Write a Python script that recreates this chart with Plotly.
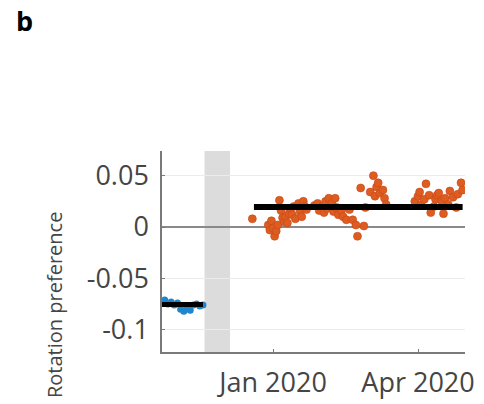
import plotly.graph_objects as go

# ---- data ----
blue_dates = ["2019-10-21", "2019-10-23", "2019-10-25", "2019-10-27", "2019-10-29", "2019-10-31",
              "2019-11-02", "2019-11-04", "2019-11-06", "2019-11-08", "2019-11-10", "2019-11-12",
              "2019-11-14", "2019-11-16", "2019-11-18"]
blue_vals = [-0.072, -0.074, -0.071, -0.075, -0.073, -0.076,
             -0.074, -0.080, -0.082, -0.078, -0.081, -0.076,
             -0.075, -0.077, -0.076]

orange_dates = ["2019-12-19", "2019-12-29", "2019-12-30", "2019-12-31", "2020-01-01", "2020-01-02",
                "2020-01-03", "2020-01-04", "2020-01-05", "2020-01-06", "2020-01-07", "2020-01-08",
                "2020-01-09", "2020-01-10", "2020-01-11", "2020-01-12", "2020-01-13", "2020-01-14",
                "2020-01-15", "2020-01-17", "2020-01-18", "2020-01-19", "2020-01-20", "2020-01-21",
                "2020-01-22", "2020-01-27", "2020-01-29", "2020-01-30", "2020-02-01", "2020-02-02",
                "2020-02-03", "2020-02-04", "2020-02-05", "2020-02-07", "2020-02-08", "2020-02-09",
                "2020-02-10", "2020-02-11", "2020-02-13", "2020-02-14", "2020-02-16", "2020-02-18",
                "2020-02-20", "2020-02-22", "2020-02-23", "2020-02-25", "2020-02-27", "2020-02-28",
                "2020-03-02", "2020-03-04", "2020-03-05", "2020-03-06", "2020-03-07", "2020-03-08",
                "2020-03-10", "2020-03-11", "2020-03-12", "2020-03-30", "2020-04-01", "2020-04-02",
                "2020-04-03", "2020-04-05", "2020-04-06", "2020-04-08", "2020-04-09", "2020-04-11",
                "2020-04-12", "2020-04-13", "2020-04-14", "2020-04-16", "2020-04-17", "2020-04-18",
                "2020-04-20", "2020-04-21", "2020-04-23", "2020-04-25", "2020-04-26", "2020-04-28",
                "2020-04-29"]
orange_vals = [0.008, 0.002, -0.003, 0.006, -0.001, -0.009,
               -0.004, 0.002, 0.026, 0.016, 0.009, 0.005,
               0.010, 0.004, 0.013, 0.018, 0.012, 0.020,
               0.008, 0.023, 0.015, 0.010, 0.025, 0.020,
               0.017, 0.021, 0.023, 0.016, 0.020, 0.014,
               0.025, 0.018, 0.028, 0.023, 0.015, 0.028,
               0.019, 0.012, 0.016, 0.010, 0.007, 0.017,
               0.007, 0.002, -0.009, 0.038, 0.001, 0.019,
               0.034, 0.050, 0.030, 0.039, 0.043, 0.033,
               0.036, 0.028, 0.022, 0.025, 0.030, 0.034,
               0.022, 0.027, 0.042, 0.031, 0.014, 0.020,
               0.027, 0.031, 0.033, 0.025, 0.013, 0.028,
               0.022, 0.035, 0.029, 0.019, 0.032, 0.043,
               0.036]

blue_mean_span = ["2019-10-22", "2019-11-18"]
blue_mean = -0.0755
orange_mean_span = ["2019-12-20", "2020-04-29"]
orange_mean = 0.0195

gap_span = ["2019-11-19", "2019-12-05"]

x_range = ["2019-10-23 07:00", "2020-04-30 12:00"]
y_range = [-0.1217, 0.074]
x_tickvals = ["2020-01-01", "2020-04-01"]
x_ticktext = ["Jan 2020", "Apr 2020"]
y_tickvals = [-0.1, -0.05, 0, 0.05]
y_ticktext = ["-0.1", "-0.05", "0", "0.05"]

FONT = "Open Sans"
TXT = "#454545"

fig = go.Figure()

fig.add_shape(type="rect", xref="x", yref="paper", x0=gap_span[0], x1=gap_span[1],
              y0=0, y1=1, fillcolor="#dcdcdc", line_width=0, layer="below")

fig.add_trace(go.Scatter(x=blue_dates, y=blue_vals, mode="markers",
                         marker=dict(color="#1f86cc", size=7, line=dict(width=0)),
                         cliponaxis=False, showlegend=False))
fig.add_trace(go.Scatter(x=orange_dates, y=orange_vals, mode="markers",
                         marker=dict(color="#dd5c20", size=8, line=dict(width=0.6, color="#c8461a")),
                         showlegend=False))
fig.add_trace(go.Scatter(x=blue_mean_span, y=[blue_mean, blue_mean], mode="lines",
                         line=dict(color="black", width=5), showlegend=False))
fig.add_trace(go.Scatter(x=orange_mean_span, y=[orange_mean, orange_mean], mode="lines",
                         line=dict(color="black", width=6), showlegend=False))

fig.update_layout(
    width=484, height=404,
    margin=dict(l=162, r=19, t=151, b=52, autoexpand=False),
    paper_bgcolor="white", plot_bgcolor="white",
    font=dict(family=FONT, color=TXT),
    xaxis=dict(range=x_range, tickvals=x_tickvals, ticktext=x_ticktext,
               automargin=False,
               showgrid=False, zeroline=False, showline=True, linecolor="#7a7a7a",
               linewidth=1.5, ticks="inside", ticklen=3, tickcolor="#7a7a7a",
               ticklabelstandoff=6,
               tickfont=dict(size=27, color=TXT, family=FONT)),
    yaxis=dict(range=y_range, tickvals=y_tickvals, ticktext=y_ticktext,
               automargin=False,
               showgrid=True, gridcolor="#ececec", gridwidth=1,
               zeroline=True, zerolinecolor="#8a8a8a", zerolinewidth=2,
               showline=True, linecolor="#7a7a7a", linewidth=1.5,
               ticks="inside", ticklen=3, tickcolor="#7a7a7a",
               ticklabelstandoff=6,
               tickfont=dict(size=27, color=TXT, family=FONT)),
    annotations=[
        dict(text="Rotation preference", xref="paper", yref="paper",
             x=-0.353, y=0.234, xanchor="center", yanchor="middle", textangle=-90,
             showarrow=False, font=dict(size=20, color=TXT, family=FONT)),
        dict(text="<b>b</b>", xref="paper", yref="paper",
             x=-0.455, y=1.648, xanchor="center", yanchor="middle",
             showarrow=False, font=dict(size=27, color="black", family=FONT)),
    ],
)

fig.write_html("out.html", config={"displayModeBar": False},
               post_script="document.body.style.margin='0px';")
